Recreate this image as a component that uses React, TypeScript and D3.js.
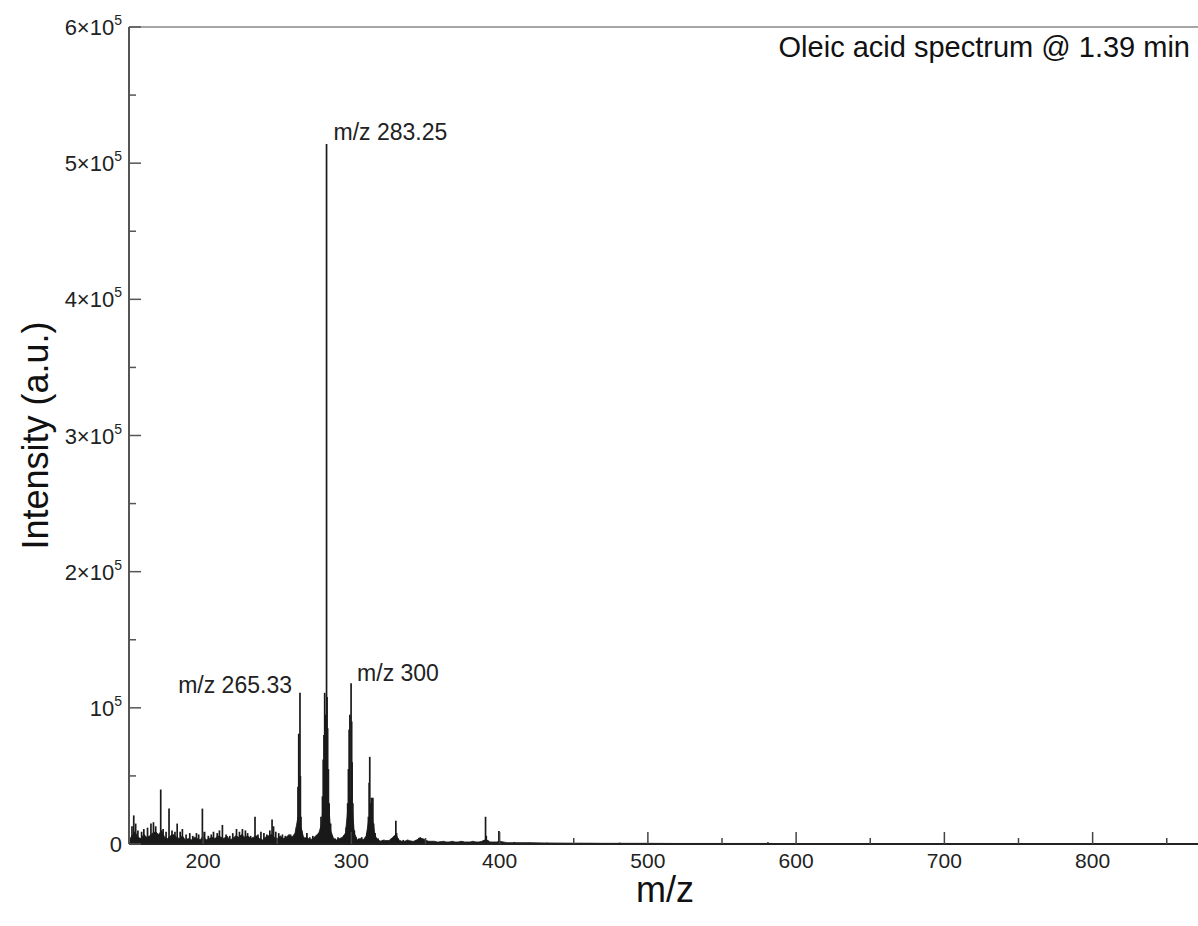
import React from "react";
import * as d3 from "d3";

// ---- Data (intensity in units of 10^3 counts) ----
const baselineMz = [
  150, 152, 154, 156, 158, 160, 162, 164, 166, 168, 170, 172, 174, 176, 178, 180, 182, 184, 186, 188,
  190, 192, 194, 196, 198, 200, 202, 204, 206, 208, 210, 212, 214, 216, 218, 220, 222, 224, 226, 228,
  230, 232, 234, 236, 238, 240, 242, 244, 246, 248, 250, 252, 254, 256, 258, 260, 262, 264, 266, 268,
  270, 272, 274, 276, 278, 280, 282, 284, 286, 288, 290, 292, 294, 296, 298, 300, 302, 304, 306, 308,
  310, 312, 314, 316, 318, 320, 322, 324, 326, 328, 330, 332, 334, 336, 338, 340, 342, 344, 346, 348,
  350, 352, 354, 356, 358, 360, 362, 364, 366, 368, 370, 372, 374, 376, 378, 380, 382, 384, 386, 388,
  390, 392, 394, 396, 398, 400, 405, 410, 415, 420, 430, 440, 450, 460, 470, 480, 490, 500, 520, 540,
  560, 580, 600, 620,
];
const baselineIntensity = [
  3, 6, 9, 5, 4, 7, 5, 6, 8, 9, 7, 10, 5, 4, 6, 7, 5, 4, 6, 3,
  4, 3, 5, 4, 3, 6, 3, 4, 5, 4, 6, 5, 4, 6, 3, 4, 6, 5, 7, 5,
  6, 4, 5, 6, 4, 3, 5, 6, 7, 5, 4, 6, 4, 5, 7, 5, 8, 20, 12, 4,
  5, 3, 4, 6, 8, 15, 45, 40, 10, 4, 3, 4, 5, 8, 30, 35, 8, 3, 4, 3,
  6, 20, 20, 6, 3, 2, 3, 2, 3, 5, 7, 3, 2, 2, 3, 2, 2, 3, 4, 4,
  3, 2, 2, 2, 1.5, 1.5, 2, 1.5, 1.5, 2, 1.5, 1.5, 2, 1.5, 1.5, 1.5, 2, 1.5, 1.5, 2,
  3, 2, 1.5, 1.5, 1.5, 2, 1, 1, 1, 1, 0.8, 0.7, 0.6, 0.6, 0.5, 0.5, 0.5, 0.5, 0.4, 0.4,
  0.4, 0.4, 0.3, 0.3,
];

const peakMz = [
  152.0, 153.2, 154.5, 156.0, 158.5, 160.0, 162.5, 164.8, 166.5, 168.0, 171.4, 173.0, 175.0, 177.0,
  179.0, 181.0, 182.5, 184.5, 186.0, 188.5, 191.0, 193.0, 195.5, 197.0, 199.5, 201.0, 203.5, 205.5,
  207.0, 209.5, 211.0, 213.0, 215.5, 218.0, 220.0, 222.5, 224.5, 226.5, 228.5, 230.0, 232.0, 235.0,
  237.0, 239.0, 241.0, 243.0, 245.0, 246.5, 247.5, 249.0, 251.0, 253.5, 255.5, 257.0, 259.0, 261.0,
  263.0, 264.0, 264.5, 265.33, 265.6, 266.0, 266.5, 268.0, 270.0, 272.0, 274.0, 276.0, 278.0, 279.5,
  280.5, 281.0, 281.5, 282.0, 282.5, 283.25, 283.6, 284.0, 284.5, 285.0, 286.0, 287.0, 289.0, 291.0,
  293.0, 295.0, 296.5, 297.5, 298.0, 298.5, 299.0, 299.8, 300.2, 300.5, 301.0, 302.0, 303.0, 305.0,
  307.0, 309.0, 310.5, 311.5, 312.0, 312.4, 313.0, 313.5, 314.0, 314.5, 315.0, 316.0, 318.0, 321.0,
  324.0, 327.0, 329.0, 330.0, 330.5, 331.5, 335.0, 340.0, 344.0, 345.5, 346.5, 348.0, 352.0, 360.0,
  368.0, 375.0, 385.0, 389.5, 390.5, 391.0, 392.0, 399.5, 400.5, 410.0, 420.0, 432.0, 455.0, 481.0,
  520.0, 560.0, 581.0,
];
const peakIntensity = [
  13, 21, 15, 10, 9, 11, 12, 15, 16, 13, 40, 11, 9, 26,
  10, 9, 15, 9, 11, 7, 8, 6, 8, 7, 26, 9, 6, 7,
  9, 8, 10, 14, 7, 6, 8, 11, 9, 11, 10, 8, 6, 20,
  7, 9, 8, 7, 10, 18, 13, 9, 8, 7, 6, 5, 7, 6,
  12, 42, 81, 111, 50, 20, 10, 5, 8, 5, 6, 4, 8, 20,
  35, 62, 80, 111, 95, 514, 108, 85, 55, 30, 15, 6, 4, 5,
  4, 6, 12, 30, 55, 84, 95, 118, 90, 60, 30, 10, 5, 4,
  5, 4, 8, 20, 45, 64, 30, 34, 22, 34, 15, 8, 4, 3,
  3, 4, 6, 17, 8, 4, 3, 2.5, 3, 4.5, 5, 3, 2, 2,
  1.5, 2, 1.5, 3, 20, 6, 3, 9.5, 2, 1.5, 1, 1, 0.8, 1,
  0.6, 0.6, 1.2,
];

const xMajorTicks = [200, 300, 400, 500, 600, 700, 800];
const xMinorTicks = [250, 350, 450, 550, 650, 750, 850];
const yMajorTicks = [0, 100, 200, 300, 400, 500, 600];
const yMinorTicks = [50, 150, 250, 350, 450, 550];
const yTickCoef = ["0", "", "2×", "3×", "4×", "5×", "6×"];

const annotations = [
  { mz: 283.25, value: 514, text: "m/z 283.25", anchor: "start", dx: 7, dy: -4 },
  { mz: 265.33, value: 111, text: "m/z 265.33", anchor: "end", dx: -8, dy: 0 },
  { mz: 299.8, value: 118, text: "m/z 300", anchor: "start", dx: 6, dy: -2 },
];

const titleText = "Oleic acid spectrum @ 1.39 min";

export default function App() {
  const W = 1198;
  const H = 926;
  const left = 129;
  const top = 27;
  const bottom = 844;
  const x = d3.scaleLinear().domain([150, 900]).range([left, left + 750 * 1.4825]);
  const y = d3.scaleLinear().domain([0, 600]).range([bottom, top]);

  const basePts = baselineMz.map((m, i) => [m, baselineIntensity[i]] as [number, number]);
  const area = d3
    .area<[number, number]>()
    .x((d) => x(d[0]))
    .y0(y(0))
    .y1((d) => y(d[1]));

  const font = "'Liberation Sans', Arial, sans-serif";
  const ink = "#1a1a1a";

  return (
    <svg width={W} height={H} style={{ position: "absolute", left: 0, top: 0, background: "#fff" }} fontFamily={font}>
      <defs>
        <clipPath id="plot">
          <rect x={left} y={top - 2} width={W - left} height={bottom - top + 2} />
        </clipPath>
      </defs>
      <g clipPath="url(#plot)">
        <path d={area(basePts) || ""} fill={ink} stroke={ink} strokeWidth={0.8} />
        {peakMz.map((m, i) => (
          <line
            key={i}
            x1={x(m)}
            x2={x(m)}
            y1={y(0)}
            y2={y(peakIntensity[i])}
            stroke={ink}
            strokeWidth={1.7}
          />
        ))}
      </g>

      {/* frame */}
      <line x1={left} x2={W} y1={top} y2={top} stroke="#888" strokeWidth={1.5} />
      <line x1={left} x2={left} y1={top} y2={bottom} stroke="#555" strokeWidth={2} />
      <line x1={left} x2={W} y1={bottom} y2={bottom} stroke="#222" strokeWidth={2} />

      {/* y ticks */}
      {yMajorTicks.map((t) => (
        <line key={"ym" + t} x1={left} x2={left + 12} y1={y(t)} y2={y(t)} stroke="#555" strokeWidth={1.5} />
      ))}
      {yMinorTicks.map((t) => (
        <line key={"yn" + t} x1={left} x2={left + 7} y1={y(t)} y2={y(t)} stroke="#555" strokeWidth={1.5} />
      ))}
      {yMajorTicks.map((t, i) => (
        <text key={"yl" + t} x={left - 7} y={y(t) + 8} textAnchor="end" fontSize={22} fill="#222">
          {t === 0 ? (
            "0"
          ) : (
            <>
              {yTickCoef[i]}10
              <tspan fontSize={14} dy={-10}>5</tspan>
            </>
          )}
        </text>
      ))}

      {/* x ticks */}
      {xMajorTicks.map((t) => (
        <line key={"xm" + t} x1={x(t)} x2={x(t)} y1={bottom} y2={bottom - 12} stroke="#444" strokeWidth={1.5} />
      ))}
      {xMinorTicks.map((t) => (
        <line key={"xn" + t} x1={x(t)} x2={x(t)} y1={bottom} y2={bottom - 6} stroke="#444" strokeWidth={1.5} />
      ))}
      {xMajorTicks.map((t) => (
        <text key={"xl" + t} x={x(t)} y={bottom + 24} textAnchor="middle" fontSize={21} fill="#222">
          {t}
        </text>
      ))}

      {/* annotations */}
      {annotations.map((a) => (
        <text
          key={a.text}
          x={x(a.mz) + a.dx}
          y={y(a.value) + a.dy}
          textAnchor={a.anchor}
          fontSize={23}
          fill="#222"
        >
          {a.text}
        </text>
      ))}

      <text x={1190} y={57} textAnchor="end" fontSize={29} fill="#111">
        {titleText}
      </text>

      {/* axis titles */}
      <text x={665} y={902} textAnchor="middle" fontSize={36} fill="#111">
        m/z
      </text>
      <text
        transform={`translate(48, ${(top + bottom) / 2}) rotate(-90)`}
        textAnchor="middle"
        fontSize={36}
        fill="#111"
      >
        Intensity (a.u.)
      </text>
    </svg>
  );
}
